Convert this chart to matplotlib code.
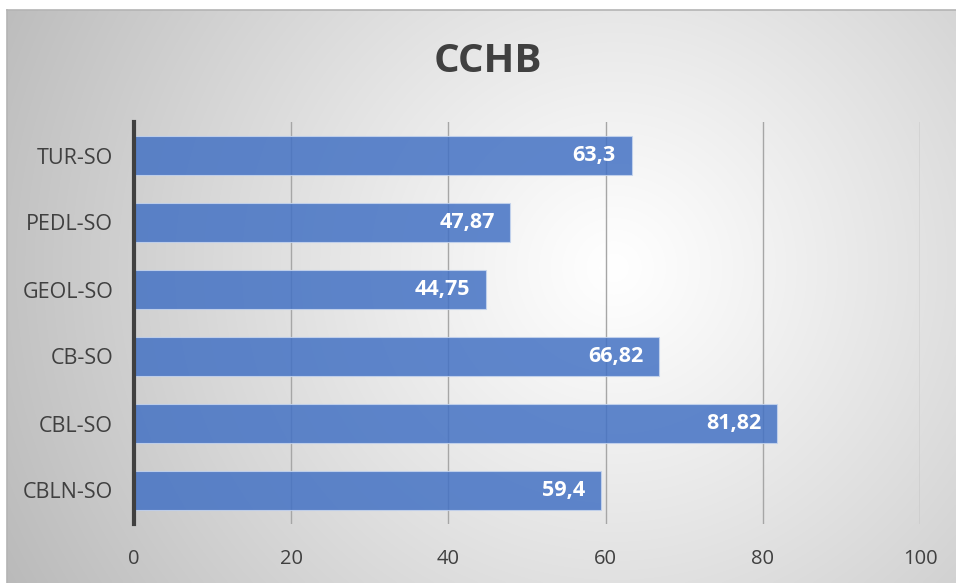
"""CCHB horizontal bar chart, Excel-style with a radial gray background."""
import matplotlib

matplotlib.use("Agg")
import matplotlib.pyplot as plt
import numpy as np

categories = ["CBLN-SO", "CBL-SO", "CB-SO", "GEOL-SO", "PEDL-SO", "TUR-SO"]
values = [59.4, 81.82, 66.82, 44.75, 47.87, 63.3]
xticks = [0, 20, 40, 60, 80, 100]

plt.rcParams["font.family"] = ["Open Sans", "DejaVu Sans"]

W, H = 956, 583
fig = plt.figure(figsize=(W / 100, H / 100), dpi=100)
fig.patch.set_facecolor("white")

# radial gradient background (chart area)
bg = fig.add_axes([7 / W, 0, 1 - 7 / W, 1 - 10 / H], zorder=-10)
yy, xx = np.mgrid[0:1:300j, 0:1:500j]
cx, cy = 0.64, 0.45
d = np.sqrt(((xx - cx) * 1.6) ** 2 + (yy - cy) ** 2)
d = np.clip(d / d.max(), 0, 1)
shade = 1.0 - 0.27 * d ** 1.1
bg.imshow(np.dstack([shade, shade, shade]), aspect="auto", extent=[0, 1, 0, 1],
          origin="upper", interpolation="bicubic")
bg.set_xlim(0, 1)
bg.set_ylim(0, 1)
for s in ["top", "left"]:
    bg.spines[s].set_color("#b4b4b4")
    bg.spines[s].set_linewidth(1.2)
for s in ["bottom", "right"]:
    bg.spines[s].set_visible(False)
bg.set_xticks([])
bg.set_yticks([])

ax = fig.add_axes([134 / W, 1 - 524 / H, (920 - 134) / W, (524 - 122) / H])
ax.patch.set_alpha(0)
ys = np.arange(len(categories))
ax.barh(ys, values, height=0.58, color="#4472C4", alpha=0.85,
        edgecolor="#c5d4ee", linewidth=0.8, zorder=3)
for y, v in zip(ys, values):
    label = f"{v:g}".replace(".", ",")
    ax.text(v - 2.0, y, label, ha="right", va="center", color="white",
            fontsize=15.5, fontweight="bold", zorder=4)

ax.set_xlim(0, 100)
ax.set_ylim(-0.5, len(categories) - 0.5)
ax.set_xticks(xticks)
ax.set_xticklabels([str(t) for t in xticks], fontsize=14.5, color="#404040")
ax.set_yticks(ys)
ax.set_yticklabels(categories, fontsize=15.5, color="#404040")
ax.tick_params(length=0)
ax.tick_params(axis="y", pad=15)
ax.tick_params(axis="x", pad=18)
ax.grid(axis="x", color="#a6a6a6", linewidth=1.0, zorder=1)
ax.set_axisbelow(True)
for s in ["top", "right", "bottom"]:
    ax.spines[s].set_visible(False)
ax.spines["left"].set_color("#404040")
ax.spines["left"].set_linewidth(3)
ax.spines["left"].set_zorder(5)

fig.text(488 / W, 1 - 62 / H, "CCHB", ha="center", va="center",
         fontsize=29, fontweight="bold", color="#404040")

fig.savefig("out.png", dpi=100)
